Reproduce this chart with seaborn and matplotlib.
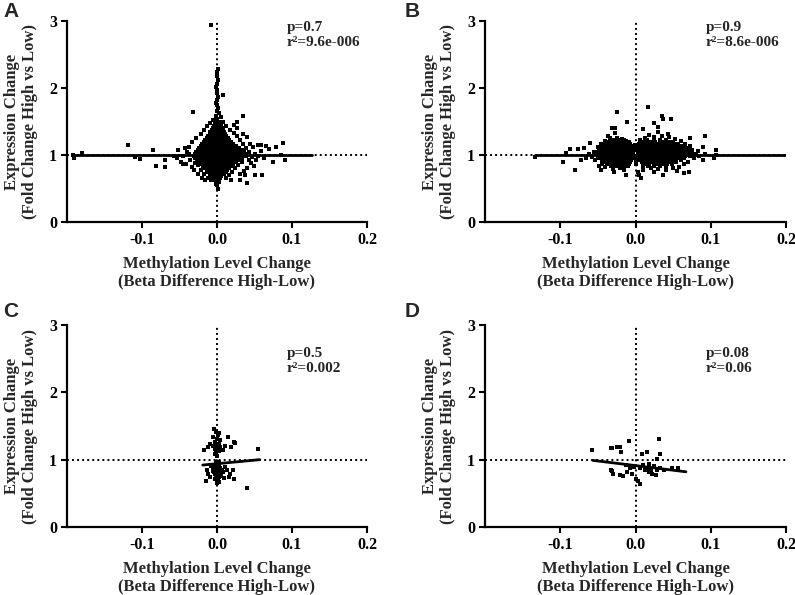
import matplotlib
matplotlib.use("Agg")
import matplotlib.pyplot as plt
import seaborn as sns
import pandas as pd

# ---------------- data ----------------
panel_letters = ["A", "B", "C", "D"]
p_labels = ["p=0.7", "p=0.9", "p=0.5", "p=0.08"]
r2_labels = ["r\u00b2=9.6e-006", "r\u00b2=8.6e-006", "r\u00b2=0.002", "r\u00b2=0.06"]
x_ticks = [-0.1, 0.0, 0.1, 0.2]
x_ticklabels = ["-0.1", "0.0", "0.1", "0.2"]
y_ticks = [0, 1, 2, 3]
y_ticklabels = ["0", "1", "2", "3"]

# panel A: dense core rows (y, x values) + scattered points (x, y)
a_rows = [
    (1.53, [0.000]),
    (1.50, [-0.001, 0.002]),
    (1.47, [-0.003, 0.000, 0.003]),
    (1.44, [-0.004, -0.001, 0.002, 0.005]),
    (1.41, [-0.006, -0.003, 0.000, 0.003, 0.006]),
    (1.38, [-0.007, -0.004, -0.001, 0.002, 0.005, 0.008]),
    (1.35, [-0.009, -0.006, -0.003, 0.000, 0.003, 0.006, 0.009]),
    (1.32, [-0.010, -0.007, -0.004, -0.001, 0.002, 0.005, 0.008, 0.011]),
    (1.29, [-0.012, -0.009, -0.006, -0.003, 0.000, 0.003, 0.006, 0.009, 0.012]),
    (1.26, [-0.014, -0.011, -0.007, -0.004, -0.001, 0.002, 0.005, 0.008, 0.011, 0.014]),
    (1.23, [-0.016, -0.012, -0.009, -0.006, -0.003, 0.000, 0.003, 0.006, 0.009, 0.012, 0.016]),
    (1.20, [-0.018, -0.014, -0.011, -0.008, -0.005, -0.002, 0.001, 0.004, 0.007, 0.010, 0.013, 0.016, 0.019]),
    (1.17, [-0.020, -0.016, -0.013, -0.010, -0.007, -0.004, -0.001, 0.002, 0.005, 0.008, 0.011, 0.014, 0.017, 0.021]),
    (1.14, [-0.022, -0.018, -0.015, -0.012, -0.009, -0.006, -0.003, 0.000, 0.003, 0.006, 0.009, 0.012, 0.015, 0.018, 0.021, 0.025]),
    (1.11, [-0.024, -0.020, -0.017, -0.014, -0.011, -0.008, -0.005, -0.002, 0.001, 0.004, 0.007, 0.010, 0.013, 0.016, 0.019, 0.022, 0.025, 0.029]),
    (1.08, [-0.026, -0.022, -0.019, -0.016, -0.013, -0.010, -0.007, -0.004, -0.001, 0.002, 0.005, 0.008, 0.011, 0.014, 0.017, 0.020, 0.023, 0.026, 0.029, 0.033]),
    (1.05, [-0.028, -0.024, -0.021, -0.018, -0.015, -0.012, -0.009, -0.006, -0.003, 0.000, 0.003, 0.006, 0.009, 0.012, 0.015, 0.018, 0.021, 0.024, 0.027, 0.031, 0.036]),
    (1.02, [-0.030, -0.026, -0.023, -0.020, -0.017, -0.014, -0.011, -0.008, -0.005, -0.002, 0.001, 0.004, 0.007, 0.010, 0.013, 0.016, 0.019, 0.022, 0.025, 0.028, 0.032, 0.037]),
    (0.99, [-0.031, -0.027, -0.024, -0.021, -0.018, -0.015, -0.012, -0.009, -0.006, -0.003, 0.000, 0.003, 0.006, 0.009, 0.012, 0.015, 0.018, 0.021, 0.024, 0.027, 0.030, 0.034, 0.039]),
    (0.96, [-0.029, -0.025, -0.022, -0.019, -0.016, -0.013, -0.010, -0.007, -0.004, -0.001, 0.002, 0.005, 0.008, 0.011, 0.014, 0.017, 0.020, 0.023, 0.026, 0.029, 0.033]),
    (0.93, [-0.027, -0.023, -0.020, -0.017, -0.014, -0.011, -0.008, -0.005, -0.002, 0.001, 0.004, 0.007, 0.010, 0.013, 0.016, 0.019, 0.022, 0.025, 0.029]),
    (0.90, [-0.024, -0.021, -0.018, -0.015, -0.012, -0.009, -0.006, -0.003, 0.000, 0.003, 0.006, 0.009, 0.012, 0.015, 0.018, 0.021, 0.025]),
    (0.87, [-0.022, -0.018, -0.015, -0.012, -0.009, -0.006, -0.003, 0.000, 0.002, 0.005, 0.008, 0.011, 0.014, 0.017, 0.021]),
    (0.84, [-0.019, -0.016, -0.013, -0.010, -0.007, -0.004, -0.001, 0.002, 0.005, 0.008, 0.011, 0.014, 0.018]),
    (0.81, [-0.017, -0.014, -0.011, -0.008, -0.005, -0.002, 0.001, 0.004, 0.007, 0.010, 0.013, 0.016]),
    (0.78, [-0.014, -0.011, -0.008, -0.005, -0.002, 0.001, 0.004, 0.007, 0.010, 0.013]),
    (0.75, [-0.012, -0.009, -0.006, -0.003, 0.000, 0.003, 0.006, 0.009, 0.012]),
    (0.72, [-0.009, -0.006, -0.003, 0.000, 0.003, 0.006, 0.009]),
    (0.69, [-0.007, -0.004, -0.001, 0.002, 0.005]),
    (0.66, [-0.005, -0.002, 0.001, 0.004]),
    (0.63, [-0.003, 0.000, 0.003]),
    (0.60, [-0.001, 0.002]),
]
a_pts = [
    (-0.040, 1.05), (-0.036, 0.93), (-0.045, 0.98), (-0.038, 1.12), (-0.033, 1.20), (-0.028, 1.25),
    (-0.022, 1.32), (-0.018, 1.38), (-0.013, 1.43), (-0.025, 0.85), (-0.030, 0.88), (-0.022, 0.78),
    (-0.018, 0.72), (-0.012, 0.66), (-0.008, 0.62), (-0.034, 0.82), (-0.048, 0.90), (-0.052, 1.08),
    (-0.041, 0.86), (0.043, 1.04), (0.046, 0.97), (0.050, 1.02), (0.042, 0.92), (0.038, 1.10),
    (0.034, 1.16), (0.030, 1.22), (0.026, 1.28), (0.022, 1.33), (0.017, 1.38), (0.012, 1.43),
    (0.028, 0.85), (0.033, 0.90), (0.024, 0.80), (0.020, 0.75), (0.016, 0.70), (0.012, 0.66),
    (0.055, 0.98), (0.058, 1.06), (0.040, 0.80), (0.036, 0.76), (0.030, 0.72), (0.045, 0.88),
    (0.052, 0.93), (0.062, 0.95), (0.048, 1.12), (0.040, 1.27), (0.035, 1.32), (0.027, 1.40),
    (0.008, 1.50), (0.005, 1.56), (-0.005, 1.52), (0.003, 1.62), (-0.002, 1.58),
    (0.000, 1.66), (0.001, 1.70), (0.000, 1.74), (-0.001, 1.78), (0.000, 1.82), (0.001, 1.86),
    (0.000, 1.92), (0.000, 1.97), (-0.001, 2.02), (0.000, 2.06), (0.001, 2.12), (0.000, 2.18),
    (0.000, 2.24), (0.001, 2.28), (0.008, 1.90), (-0.008, 2.94), (0.000, 0.55), (0.001, 0.50),
    (-0.001, 0.57), (-0.192, 1.00), (-0.191, 0.95), (-0.180, 1.03), (-0.119, 1.15), (-0.109, 0.97),
    (-0.103, 0.94), (-0.085, 1.07), (-0.081, 0.84), (-0.069, 0.92), (-0.069, 0.82), (-0.053, 0.95),
    (-0.058, 0.99), (-0.032, 1.64), (0.035, 1.58), (0.027, 1.49), (0.040, 0.58), (0.055, 1.15),
    (0.058, 1.15), (0.069, 1.09), (0.088, 1.18), (0.085, 1.00), (0.075, 0.90), (0.090, 0.92),
    (0.051, 0.70), (0.060, 0.70), (-0.045, 0.86), (0.078, 1.12), (0.065, 1.13), (0.030, 0.62),
    (-0.020, 0.65), (-0.037, 1.01), (-0.043, 1.10), (-0.031, 0.77), (0.044, 1.16), (0.049, 0.84),
    (0.037, 0.70), (-0.026, 0.72), (-0.016, 0.62), (0.018, 0.62), (0.022, 1.45), (-0.010, 1.48),
]

# panel B
b_rows = [
    (1.22, [-0.030, -0.022, -0.015]),
    (1.19, [-0.036, -0.031, -0.026, -0.020, -0.014, -0.009]),
    (1.16, [-0.040, -0.035, -0.030, -0.026, -0.021, -0.017, -0.012, -0.007]),
    (1.13, [-0.044, -0.039, -0.034, -0.029, -0.025, -0.020, -0.016, -0.011, -0.006, -0.003]),
    (1.10, [-0.046, -0.042, -0.037, -0.033, -0.028, -0.024, -0.019, -0.015, -0.010, -0.006, -0.002]),
    (1.07, [-0.048, -0.044, -0.040, -0.035, -0.031, -0.027, -0.022, -0.018, -0.013, -0.009, -0.004]),
    (1.04, [-0.050, -0.046, -0.042, -0.037, -0.033, -0.029, -0.024, -0.020, -0.016, -0.011, -0.007, -0.003]),
    (1.01, [-0.052, -0.047, -0.043, -0.039, -0.035, -0.030, -0.026, -0.022, -0.017, -0.013, -0.009, -0.004]),
    (0.98, [-0.050, -0.045, -0.041, -0.037, -0.032, -0.028, -0.024, -0.019, -0.015, -0.011, -0.006, -0.002]),
    (0.95, [-0.048, -0.043, -0.039, -0.034, -0.030, -0.026, -0.021, -0.017, -0.013, -0.008, -0.004]),
    (0.92, [-0.045, -0.041, -0.036, -0.032, -0.028, -0.023, -0.019, -0.015, -0.010, -0.006]),
    (0.89, [-0.042, -0.038, -0.033, -0.029, -0.025, -0.020, -0.016, -0.012, -0.007]),
    (0.86, [-0.038, -0.034, -0.030, -0.026, -0.021, -0.017, -0.013, -0.009]),
    (0.83, [-0.033, -0.028, -0.023, -0.018, -0.013]),
    (1.22, [0.015, 0.024, 0.033, 0.041]),
    (1.19, [0.008, 0.014, 0.020, 0.026, 0.032, 0.038, 0.044, 0.050]),
    (1.16, [0.005, 0.010, 0.015, 0.020, 0.025, 0.030, 0.035, 0.040, 0.046, 0.052, 0.057]),
    (1.13, [0.004, 0.008, 0.013, 0.017, 0.022, 0.027, 0.031, 0.036, 0.041, 0.045, 0.050, 0.055, 0.061]),
    (1.10, [0.003, 0.007, 0.011, 0.016, 0.020, 0.025, 0.029, 0.034, 0.038, 0.043, 0.047, 0.052, 0.057, 0.063, 0.068]),
    (1.07, [0.004, 0.009, 0.013, 0.018, 0.022, 0.027, 0.031, 0.036, 0.040, 0.045, 0.049, 0.054, 0.059, 0.065, 0.071]),
    (1.04, [0.003, 0.007, 0.011, 0.016, 0.020, 0.025, 0.029, 0.034, 0.038, 0.043, 0.047, 0.052, 0.056, 0.061, 0.067, 0.074]),
    (1.01, [0.004, 0.009, 0.013, 0.018, 0.022, 0.027, 0.031, 0.036, 0.040, 0.045, 0.049, 0.054, 0.058, 0.063, 0.069, 0.076]),
    (0.98, [0.003, 0.007, 0.011, 0.016, 0.020, 0.025, 0.029, 0.034, 0.038, 0.043, 0.047, 0.052, 0.056, 0.061, 0.066, 0.072]),
    (0.95, [0.005, 0.009, 0.013, 0.018, 0.022, 0.027, 0.031, 0.036, 0.040, 0.045, 0.049, 0.054, 0.059, 0.065]),
    (0.92, [0.006, 0.011, 0.016, 0.020, 0.025, 0.029, 0.034, 0.038, 0.043, 0.048, 0.053, 0.060]),
    (0.89, [0.008, 0.013, 0.018, 0.023, 0.028, 0.032, 0.037, 0.042, 0.047, 0.054]),
    (0.86, [0.012, 0.018, 0.024, 0.030, 0.036, 0.042, 0.049]),
    (0.83, [0.017, 0.025, 0.033, 0.041]),
]
b_pts = [
    (-0.055, 1.05), (-0.058, 0.97), (-0.054, 0.92), (-0.050, 1.12), (-0.046, 1.17), (-0.040, 1.21),
    (-0.034, 1.25), (-0.025, 1.26), (-0.018, 1.24), (-0.012, 1.21), (-0.044, 0.86), (-0.040, 0.82),
    (-0.030, 0.79), (-0.020, 0.80), (-0.015, 0.77), (-0.010, 0.83), (-0.048, 0.84), (-0.062, 1.02),
    (-0.036, 1.29), (-0.028, 0.75), (0.080, 1.02), (0.078, 0.95), (0.075, 1.08), (0.072, 1.13),
    (0.066, 1.17), (0.060, 1.21), (0.052, 1.24), (0.045, 1.27), (0.035, 1.28), (0.025, 1.27),
    (0.012, 1.25), (0.006, 1.22), (0.070, 0.89), (0.064, 0.86), (0.058, 0.82), (0.050, 0.80),
    (0.040, 0.78), (0.030, 0.79), (0.020, 0.80), (0.010, 0.83), (0.085, 0.98), (0.083, 1.06),
    (0.043, 1.32), (0.030, 1.35), (0.018, 1.30), (0.055, 0.76), (0.025, 0.74), (0.010, 0.78),
    (0.000, 0.93), (0.001, 1.08), (-0.001, 1.15), (0.001, 0.86), (-0.024, 1.64), (0.016, 1.72),
    (0.035, 1.58), (0.036, 1.54), (0.047, 1.54), (0.024, 1.48), (-0.011, 1.49), (-0.031, 1.40),
    (-0.027, 1.41), (-0.027, 1.33), (-0.080, 0.78), (-0.097, 0.89), (-0.087, 1.09), (-0.077, 1.09),
    (-0.069, 1.10), (-0.060, 1.18), (-0.073, 0.92), (-0.093, 1.03), (-0.066, 0.95), (0.090, 1.12),
    (0.073, 1.25), (0.092, 1.28), (0.093, 1.02), (0.090, 0.92), (0.071, 0.75), (0.064, 0.73),
    (0.036, 0.70), (0.003, 0.75), (0.004, 0.70), (0.007, 0.66), (-0.013, 0.70), (0.107, 1.00),
    (0.107, 1.07), (0.104, 0.95), (-0.133, 0.97), (-0.046, 0.78), (0.010, 1.39), (0.030, 1.42),
]

# panel C
c_rows = []
c_pts = [
    (-0.004, 1.46), (-0.001, 1.41), (0.002, 1.39), (-0.005, 1.34), (0.000, 1.31), (0.004, 1.29),
    (-0.003, 1.26), (0.002, 1.24), (-0.005, 1.21), (0.000, 1.20), (0.004, 1.19), (-0.003, 1.16),
    (0.002, 1.15), (-0.001, 1.11), (0.003, 1.13), (-0.003, 1.08), (0.000, 1.06), (0.001, 1.36),
    (-0.002, 1.23), (0.003, 1.17), (-0.018, 1.15), (-0.012, 1.19), (-0.009, 1.24), (0.011, 1.21),
    (0.015, 1.34), (0.022, 1.26), (0.024, 1.25), (0.008, 1.14), (0.018, 1.19), (0.055, 1.16),
    (-0.001, 0.94), (0.002, 0.92), (-0.004, 0.89), (0.000, 0.88), (0.004, 0.87), (-0.003, 0.85),
    (0.002, 0.84), (-0.005, 0.83), (0.000, 0.82), (0.005, 0.82), (-0.003, 0.79), (0.002, 0.78),
    (-0.001, 0.76), (0.003, 0.74), (0.000, 0.71), (0.002, 0.67), (-0.003, 0.72), (0.001, 0.80),
    (-0.002, 0.87), (0.003, 0.90), (-0.004, 0.81), (0.004, 0.79), (0.001, 0.86), (-0.001, 0.91),
    (0.006, 0.85), (-0.006, 0.88), (0.000, 0.65), (0.001, 0.69), (-0.002, 0.74), (0.005, 0.76),
    (0.003, 0.96), (-0.002, 0.97), (-0.014, 0.84), (-0.012, 0.79), (-0.015, 0.69), (-0.009, 0.74),
    (0.008, 0.82), (0.013, 0.84), (0.017, 0.79), (0.021, 0.84), (0.022, 0.71), (0.016, 0.75),
    (0.040, 0.58), (0.011, 0.89), (-0.008, 0.90), (0.009, 0.73),
]

# panel D
d_rows = []
d_pts = [
    (-0.058, 1.15), (-0.033, 1.17), (-0.031, 1.18), (-0.024, 1.19), (-0.020, 1.19), (-0.019, 1.11),
    (-0.008, 1.27), (0.015, 1.12), (0.008, 1.08), (0.031, 1.31), (0.033, 1.09), (0.029, 1.01),
    (-0.033, 0.85), (-0.031, 0.83), (-0.030, 0.79), (-0.020, 0.77), (-0.016, 0.76), (-0.011, 0.82),
    (-0.007, 0.87), (-0.004, 0.79), (-0.002, 0.89), (0.000, 0.72), (0.003, 0.69), (0.006, 0.64),
    (0.006, 0.87), (0.010, 0.92), (0.013, 0.84), (0.016, 0.88), (0.018, 0.82), (0.020, 0.85),
    (0.022, 0.79), (0.024, 0.91), (0.027, 0.77), (0.029, 0.84), (0.033, 0.87), (0.038, 0.84),
    (0.049, 0.88), (0.056, 0.87), (-0.013, 0.92), (0.018, 0.93),
]

# linear regression line end points
fit_x = [[-0.192, 0.127], [-0.133, 0.200], [-0.019, 0.057], [-0.057, 0.067]]
fit_y = [[1.00, 1.00], [1.00, 1.00], [0.92, 1.00], [0.99, 0.82]]

# ---------------- figure ----------------
sns.set_style("ticks")
plt.rcParams["font.family"] = ["Liberation Serif", "DejaVu Serif"]
plt.rcParams["font.weight"] = "bold"

fig = plt.figure(figsize=(7.95, 5.95), dpi=100)
W, H = 795.0, 595.0
boxes = [(67, 21, 367, 222), (485, 21, 786, 222), (67, 325, 367, 527), (485, 325, 786, 527)]
text_y = [3.0, 3.0, 2.68, 2.68]
letter_pos = [(3, 2), (405, 2), (3, 302), (405, 302)]

all_rows = [a_rows, b_rows, c_rows, d_rows]
all_pts = [a_pts, b_pts, c_pts, d_pts]

for i in range(4):
    l, t, r, b = boxes[i]
    ax = fig.add_axes([l / W, 1 - b / H, (r - l) / W, (b - t) / H])
    xs, ys = [], []
    for yv, xl in all_rows[i]:
        for xv in xl:
            xs.append(xv)
            ys.append(yv)
    for xv, yv in all_pts[i]:
        xs.append(xv)
        ys.append(yv)
    df = pd.DataFrame({"x": xs, "y": ys})

    ax.axhline(1.0, color="black", lw=1.4, ls=(0, (1, 1.6)), zorder=1)
    ax.axvline(0.0, color="black", lw=1.4, ls=(0, (1, 1.6)), zorder=1)
    sns.scatterplot(data=df, x="x", y="y", ax=ax, color="black", marker="s",
                    s=5, linewidth=0, zorder=2)
    sns.lineplot(x=fit_x[i], y=fit_y[i], ax=ax, color="black", lw=2.0, zorder=3)

    ax.set_xlim(-0.2, 0.2)
    ax.set_ylim(0, 3)
    ax.set_xticks(x_ticks)
    ax.set_xticklabels(x_ticklabels)
    ax.set_yticks(y_ticks)
    ax.set_yticklabels(y_ticklabels)
    for lab in ax.get_xticklabels() + ax.get_yticklabels():
        lab.set_fontweight("bold")
    ax.tick_params(direction="out", length=4, width=1.5, labelsize=11.5, colors="black", pad=3)
    for sp in ["top", "right"]:
        ax.spines[sp].set_visible(False)
    for sp in ["left", "bottom"]:
        ax.spines[sp].set_linewidth(1.6)
        ax.spines[sp].set_color("black")

    ax.set_xlabel("Methylation Level Change\n(Beta Difference High-Low)",
                  fontsize=12, fontweight="bold", labelpad=6)
    ax.set_ylabel("Expression Change\n(Fold Change High vs Low)",
                  fontsize=12, fontweight="bold", labelpad=8)

    ax.text(0.093, text_y[i], p_labels[i] + "\n" + r2_labels[i], fontsize=11,
            fontweight="bold", ha="left", va="top", linespacing=1.2)

    lx, ly = letter_pos[i]
    fig.text(lx / W, 1 - ly / H, panel_letters[i], fontsize=15, fontweight="bold",
             family=["Liberation Sans", "DejaVu Sans"], ha="left", va="top")

fig.savefig("out.png", dpi=100)
